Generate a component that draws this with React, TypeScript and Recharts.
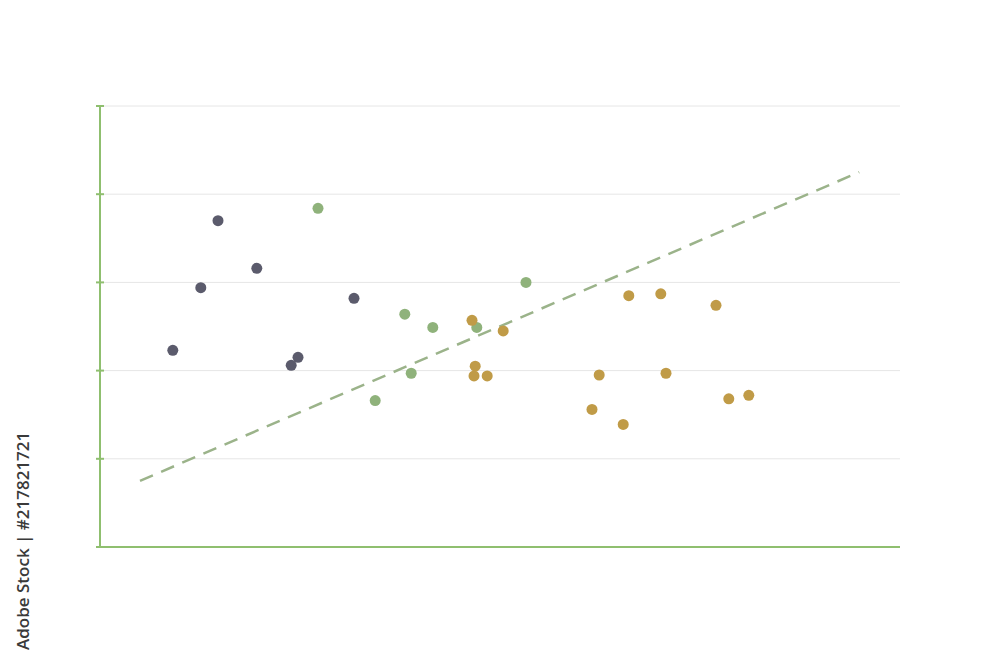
import React from "react";
import { CartesianGrid, Scatter, ScatterChart, XAxis, YAxis } from "recharts";

// groups of points (x 0..100, y 0..50)
const darkPoints = [
  { x: 9.1, y: 22.3 },
  { x: 12.6, y: 29.4 },
  { x: 14.75, y: 37.0 },
  { x: 19.6, y: 31.6 },
  { x: 23.9, y: 20.6 },
  { x: 24.75, y: 21.5 },
  { x: 31.75, y: 28.2 }
];

const greenPoints = [
  { x: 27.25, y: 38.4 },
  { x: 34.4, y: 16.6 },
  { x: 38.1, y: 26.4 },
  { x: 38.9, y: 19.7 },
  { x: 41.6, y: 24.9 },
  { x: 47.1, y: 24.9 },
  { x: 53.25, y: 30.0 }
];

const goldPoints = [
  { x: 46.5, y: 25.7 },
  { x: 46.9, y: 20.5 },
  { x: 46.75, y: 19.4 },
  { x: 48.4, y: 19.4 },
  { x: 50.4, y: 24.5 },
  { x: 62.4, y: 19.5 },
  { x: 61.5, y: 15.6 },
  { x: 65.4, y: 13.9 },
  { x: 66.1, y: 28.5 },
  { x: 70.1, y: 28.7 },
  { x: 70.75, y: 19.7 },
  { x: 77, y: 27.4 },
  { x: 78.6, y: 16.8 },
  { x: 81.1, y: 17.2 }
];

const trendLine = [
  { x: 5, y: 7.5 },
  { x: 94.9, y: 42.5 }
];

const yTicks = [0, 10, 20, 30, 40, 50];

const AXIS_GREEN = "#8fbf6f";

function CrossTick(props: any) {
  const { y } = props;
  // centre the little tick on the axis line at x = 100
  return <line x1={96} x2={104} y1={y} y2={y} stroke={AXIS_GREEN} strokeWidth={2} />;
}

function dot(color: string) {
  return (p: any) => <circle cx={p.cx} cy={p.cy} r={5.5} fill={color} />;
}

export default function App() {
  return (
    <div style={{ position: "absolute", left: 0, top: 0, width: 1000, height: 667, background: "#fff" }}>
      <ScatterChart width={1000} height={667} margin={{ top: 106, right: 100, bottom: 119, left: 99 }}>
        <CartesianGrid vertical={false} stroke="#e6e6e6" />
        <XAxis
          type="number"
          dataKey="x"
          domain={[0, 100]}
          height={1}
          tick={false}
          tickLine={false}
          axisLine={{ stroke: AXIS_GREEN, strokeWidth: 2 }}
        />
        <YAxis
          type="number"
          dataKey="y"
          domain={[0, 50]}
          ticks={yTicks}
          width={1}
          tickLine={false}
          tick={<CrossTick />}
          axisLine={{ stroke: AXIS_GREEN, strokeWidth: 2 }}
        />
        <Scatter
          data={trendLine}
          line={{ stroke: "#9bb38a", strokeWidth: 2.5, strokeDasharray: "14 9" }}
          shape={() => null}
          isAnimationActive={false}
        />
        <Scatter data={darkPoints} fill="#5b5b6c" shape={dot("#5b5b6c")} isAnimationActive={false} />
        <Scatter data={greenPoints} fill="#8fb27b" shape={dot("#8fb27b")} isAnimationActive={false} />
        <Scatter data={goldPoints} fill="#c09b47" shape={dot("#c09b47")} isAnimationActive={false} />
      </ScatterChart>
      <svg width={40} height={260} style={{ position: "absolute", left: 0, top: 410 }}>
        <text
          transform="translate(29, 240) rotate(-90)"
          fill="#3a3a3a"
          fontFamily="'Open Sans', sans-serif"
          fontWeight={600}
          fontSize={17}
        >
          Adobe Stock | #217821721
        </text>
      </svg>
    </div>
  );
}
